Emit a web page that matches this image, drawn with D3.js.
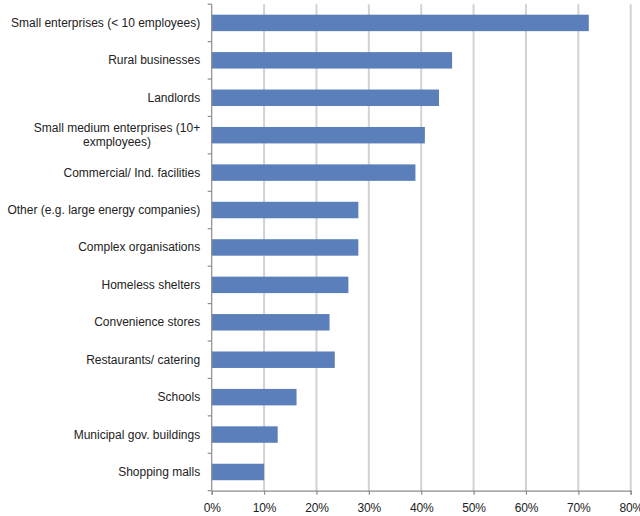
<!DOCTYPE html>
<html>
<head>
<meta charset="utf-8">
<script src="https://cdn.jsdelivr.net/npm/d3@7/dist/d3.min.js"></script>
<style>
  html, body { margin: 0; padding: 0; background: #fff; }
  svg { display: block; }
  text { font-family: "Liberation Sans", Arial, Helvetica, sans-serif; fill: #222; }
</style>
</head>
<body>
<svg id="chart" width="640" height="516"></svg>
<script>
// Organisation types (top to bottom) and share of respondents (%)
const categories = [
  ["Small enterprises (< 10 employees)"],
  ["Rural businesses"],
  ["Landlords"],
  ["Small medium enterprises (10+", "exmployees)"],
  ["Commercial/ Ind. facilities"],
  ["Other (e.g. large energy companies)"],
  ["Complex organisations"],
  ["Homeless shelters"],
  ["Convenience stores"],
  ["Restaurants/ catering"],
  ["Schools"],
  ["Municipal gov. buildings"],
  ["Shopping malls"]
];
const values = [72.0, 45.9, 43.4, 40.7, 38.9, 28.0, 28.0, 26.1, 22.5, 23.5, 16.2, 12.6, 10.0];
const xTicks = [0, 10, 20, 30, 40, 50, 60, 70, 80];

const svg = d3.select("#chart");
const margin = { top: 4.2, right: 9.3, bottom: 25.3, left: 211.7 };
const W = 640, H = 516;
const plotW = W - margin.left - margin.right;
const plotH = H - margin.top - margin.bottom;

const keys = categories.map((c, i) => i);
const x = d3.scaleLinear().domain([0, 80]).range([0, plotW]);
const y = d3.scaleBand().domain(keys).range([0, plotH]).paddingInner(0.56).paddingOuter(0.28);

const g = svg.append("g").attr("transform", `translate(${margin.left},${margin.top})`);

// vertical gridlines
g.append("g")
  .selectAll("line")
  .data(xTicks.filter(t => t > 0))
  .join("line")
  .attr("x1", d => x(d)).attr("x2", d => x(d))
  .attr("y1", 0).attr("y2", plotH)
  .attr("stroke", "#d2d2d2")
  .attr("stroke-width", 2);

// bars
g.append("g")
  .selectAll("rect")
  .data(values)
  .join("rect")
  .attr("x", 0)
  .attr("y", (d, i) => y(i))
  .attr("width", d => x(d))
  .attr("height", y.bandwidth())
  .attr("fill", "#5a7fba");

// bottom axis
const xAxis = g.append("g")
  .attr("transform", `translate(0,${plotH})`)
  .call(d3.axisBottom(x).tickValues(xTicks).tickFormat(d => d + "%").tickSize(4).tickPadding(9));
xAxis.select(".domain").attr("stroke", "#8c8c8c").attr("stroke-width", 1.2);
xAxis.selectAll(".tick line").attr("stroke", "#8c8c8c").attr("stroke-width", 1.2);
xAxis.selectAll("text").attr("font-size", 12).attr("letter-spacing", -0.2).style("fill", "#222");

// left axis with ticks at band boundaries
const step = y.step();
const boundaries = d3.range(categories.length + 1).map(i => i * step);
g.append("line")
  .attr("x1", 0).attr("x2", 0).attr("y1", 0).attr("y2", plotH)
  .attr("stroke", "#8c8c8c").attr("stroke-width", 1.2);
g.append("g")
  .selectAll("line")
  .data(boundaries)
  .join("line")
  .attr("x1", -4).attr("x2", 0)
  .attr("y1", d => d).attr("y2", d => d)
  .attr("stroke", "#8c8c8c").attr("stroke-width", 1.2);

// category labels (wrapped lines centred within a right-aligned block)
const labelRight = -11.5;
const lineH = 14;
const labels = g.append("g").attr("font-size", 12);
categories.forEach((lines, i) => {
  const cy = y(i) + y.bandwidth() / 2;
  if (lines.length === 1) {
    labels.append("text")
      .attr("x", labelRight).attr("y", cy)
      .attr("text-anchor", "end")
      .attr("dominant-baseline", "central")
      .text(lines[0]);
  } else {
    const tmp = labels.append("text").text(lines[0]);
    const w = tmp.node().getComputedTextLength();
    tmp.remove();
    const cx = labelRight - w / 2;
    lines.forEach((ln, k) => {
      labels.append("text")
        .attr("x", cx)
        .attr("y", cy + (k - (lines.length - 1) / 2) * lineH)
        .attr("text-anchor", "middle")
        .attr("dominant-baseline", "central")
        .text(ln);
    });
  }
});
</script>
</body>
</html>
